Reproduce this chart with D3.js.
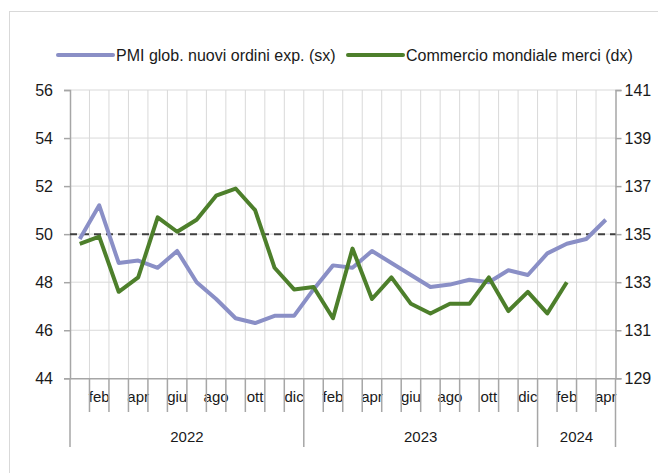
<!DOCTYPE html>
<html>
<head>
<meta charset="utf-8">
<script src="https://cdn.jsdelivr.net/npm/d3@7"></script>
<style>
  body { margin: 0; background: #fff; }
  svg { display: block; font-family: "Liberation Sans", Arial, sans-serif; }
</style>
</head>
<body>
<div id="chart"></div>
<script>
// months from gen 2022 to apr 2024
var months = ["gen","feb","mar","apr","mag","giu","lug","ago","set","ott","nov","dic",
              "gen","feb","mar","apr","mag","giu","lug","ago","set","ott","nov","dic",
              "gen","feb","mar","apr"];
var years = ["2022", "2023", "2024"];
var yearLengths = [12, 12, 4];
// PMI global new export orders (left axis)
var pmi = [49.8, 51.2, 48.8, 48.9, 48.6, 49.3, 48.0, 47.3, 46.5, 46.3, 46.6, 46.6,
           47.7, 48.7, 48.6, 49.3, 48.8, 48.3, 47.8, 47.9, 48.1, 48.0, 48.5, 48.3,
           49.2, 49.6, 49.8, 50.6];
// world merchandise trade (right axis), ends feb 2024
var trade = [134.6, 134.9, 132.6, 133.2, 135.7, 135.1, 135.6, 136.6, 136.9, 136.0, 133.6, 132.7,
             132.8, 131.5, 134.4, 132.3, 133.2, 132.1, 131.7, 132.1, 132.1, 133.2, 131.8, 132.6,
             131.7, 133.0];
var leftTicks = [44, 46, 48, 50, 52, 54, 56];
var rightTicks = [129, 131, 133, 135, 137, 139, 141];
var refLevel = 50;

function drawChart() {
    var width = 658, height = 473;
    var plotLeft = 70, plotRight = 615.5, plotTop = 90, plotBottom = 378.3;
    var blue = "#8a8fc6", green = "#4d7f2b", axisColor = "#a6a6a6", gridColor = "#d9d9d9";
    var textColor = "#1a1a1a";

    var svg = d3.select("#chart").append("svg").attr("width", width).attr("height", height);

    // outer frame
    svg.append("rect").attr("x", 9.5).attr("y", 11.5).attr("width", 700).attr("height", 500)
        .attr("fill", "none").attr("stroke", gridColor);

    var idx = d3.range(months.length);
    var x = d3.scaleBand().domain(idx).range([plotLeft, plotRight]).padding(0);
    var yL = d3.scaleLinear().domain([44, 56]).range([plotBottom, plotTop]);
    var yR = d3.scaleLinear().domain([129, 141]).range([plotBottom, plotTop]);
    var cx = function (i) { return x(i) + x.bandwidth() / 2; };

    // grid
    svg.append("g").selectAll("line").data(leftTicks.slice(1)).join("line")
        .attr("x1", plotLeft).attr("x2", plotRight).attr("y1", yL).attr("y2", yL)
        .attr("stroke", gridColor).attr("stroke-width", 1);
    svg.append("g").selectAll("line").data(idx.slice(1)).join("line")
        .attr("x1", x).attr("x2", x).attr("y1", plotTop).attr("y2", plotBottom)
        .attr("stroke", gridColor).attr("stroke-width", 1);

    // axes
    var axL = svg.append("g").attr("transform", "translate(" + plotLeft + ",0)")
        .call(d3.axisLeft(yL).tickValues(leftTicks).tickSize(6).tickPadding(11));
    var axR = svg.append("g").attr("transform", "translate(" + plotRight + ",0)")
        .call(d3.axisRight(yR).tickValues(rightTicks).tickSize(6).tickPadding(3));
    [axL, axR].forEach(function (ax) {
        ax.select(".domain").attr("stroke", axisColor).attr("stroke-width", 1.5);
        ax.selectAll(".tick line").attr("stroke", axisColor).attr("stroke-width", 1.5);
        ax.selectAll("text").attr("font-size", 16).attr("fill", textColor)
            .attr("font-family", "Liberation Sans, Arial, sans-serif");
    });

    // bottom axis: month labels every second month, ticks on boundaries
    var axB = svg.append("g").attr("transform", "translate(0," + plotBottom + ")")
        .call(d3.axisBottom(x).tickSize(0).tickPadding(13)
            .tickFormat(function (i) { return i % 2 === 1 ? months[i] : ""; }));
    axB.select(".domain").attr("stroke", axisColor).attr("stroke-width", 1.5);
    axB.selectAll("text").attr("font-size", 15).attr("fill", textColor)
        .attr("font-family", "Liberation Sans, Arial, sans-serif");

    var yearStarts = [0];
    yearLengths.forEach(function (n, k) { yearStarts.push(yearStarts[k] + n); });
    var bx = function (i) { return i < months.length ? x(i) : plotRight; };
    svg.append("g").selectAll("line").data(d3.range(months.length + 1)).join("line")
        .attr("x1", bx).attr("x2", bx)
        .attr("y1", plotBottom)
        .attr("y2", function (i) { return yearStarts.indexOf(i) >= 0 ? 447 : 412; })
        .attr("stroke", axisColor).attr("stroke-width", 1.5);
    svg.append("g").selectAll("text").data(years).join("text")
        .attr("x", function (d, k) { return (bx(yearStarts[k]) + bx(yearStarts[k + 1])) / 2; })
        .attr("y", 442).attr("text-anchor", "middle").attr("font-size", 15).attr("fill", textColor)
        .text(function (d) { return d; });

    // reference line at 50
    svg.append("line").attr("x1", plotLeft).attr("x2", plotRight)
        .attr("y1", yL(refLevel)).attr("y2", yL(refLevel))
        .attr("stroke", "#404040").attr("stroke-width", 2).attr("stroke-dasharray", "7,5");

    // series
    var lineL = d3.line().x(function (d, i) { return cx(i); }).y(function (d) { return yL(d); });
    var lineR = d3.line().x(function (d, i) { return cx(i); }).y(function (d) { return yR(d); });
    svg.append("path").datum(pmi).attr("d", lineL).attr("fill", "none")
        .attr("stroke", blue).attr("stroke-width", 4).attr("stroke-linejoin", "round");
    svg.append("path").datum(trade).attr("d", lineR).attr("fill", "none")
        .attr("stroke", green).attr("stroke-width", 4).attr("stroke-linejoin", "round");

    // legend
    var legend = [
        {label: "PMI glob. nuovi ordini exp. (sx)", color: blue, x: 58},
        {label: "Commercio mondiale merci (dx)", color: green, x: 348}
    ];
    var lg = svg.append("g").selectAll("g").data(legend).join("g")
        .attr("transform", function (d) { return "translate(" + d.x + ",55)"; });
    lg.append("line").attr("x1", 0).attr("x2", 55).attr("y1", 0).attr("y2", 0)
        .attr("stroke", function (d) { return d.color; }).attr("stroke-width", 4)
        .attr("stroke-linecap", "round");
    lg.append("text").attr("x", 58).attr("y", 5.5).attr("font-size", 16).attr("fill", textColor)
        .text(function (d) { return d.label; });
}

drawChart();
</script>
</body>
</html>
